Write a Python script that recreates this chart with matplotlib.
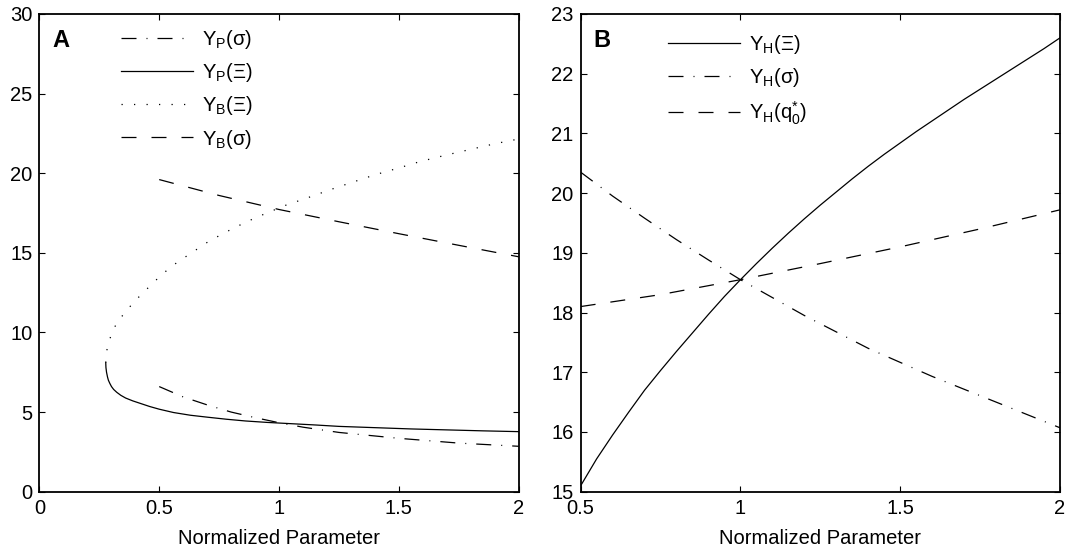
import matplotlib
matplotlib.use("Agg")
import matplotlib.pyplot as plt
import numpy as np

plt.rcParams['font.family'] = ['Liberation Sans', 'DejaVu Sans']
plt.rcParams['mathtext.fontset'] = 'custom'
plt.rcParams['mathtext.rm'] = 'Liberation Sans'
plt.rcParams['mathtext.it'] = 'Liberation Sans:italic'
plt.rcParams['mathtext.bf'] = 'Liberation Sans:bold'

# ---------------- Panel A data ----------------
yp_sigma_x = [0.5, 0.6, 0.7, 0.8, 0.9, 1.0, 1.1, 1.25, 1.5, 1.75, 2.0]
yp_sigma_y = [6.6, 5.95, 5.45, 5.0, 4.65, 4.33, 4.05, 3.72, 3.35, 3.05, 2.85]

yp_xi_x = [0.277, 0.2778, 0.2803, 0.2844, 0.288, 0.294, 0.301, 0.31, 0.323,
           0.34, 0.36, 0.39, 0.42, 0.46, 0.5, 0.56, 0.63, 0.7, 0.78, 0.86, 0.95, 1.05,
           1.15, 1.25, 1.4, 1.55, 1.7, 1.85, 2.0]
yp_xi_y = [8.1, 7.8, 7.5, 7.2, 7.0, 6.8, 6.6, 6.42, 6.24,
           6.05, 5.88, 5.7, 5.55, 5.35, 5.18, 4.97, 4.8, 4.68, 4.55, 4.44, 4.35, 4.27,
           4.19, 4.1, 4.02, 3.94, 3.88, 3.82, 3.77]

yb_xi_x = [0.277, 0.2776, 0.279, 0.282, 0.29, 0.3, 0.3125, 0.335, 0.361, 0.385, 0.41,
           0.44, 0.474, 0.505, 0.54, 0.575, 0.615, 0.655, 0.694, 0.735, 0.778, 0.82, 0.868,
           0.91, 0.949, 1.03, 1.118, 1.23, 1.3, 1.4, 1.5, 1.588, 1.7, 1.8, 1.9, 2.0]
yb_xi_y = [8.1, 8.4, 8.65, 8.9, 9.4, 9.85, 10.3, 10.85, 11.3, 11.75, 12.15,
           12.6, 13.1, 13.55, 14.0, 14.4, 14.8, 15.2, 15.6, 15.95, 16.3, 16.62, 16.97,
           17.25, 17.5, 18.0, 18.45, 19.05, 19.4, 19.9, 20.33, 20.73, 21.15, 21.5, 21.85, 22.15]

yb_sigma_x = [0.5, 0.75, 1.0, 1.25, 1.5, 1.75, 2.0]
yb_sigma_y = [19.6, 18.6, 17.72, 16.95, 16.2, 15.47, 14.75]

# ---------------- Panel B data ----------------
yh_xi_x = [0.5, 0.55, 0.6, 0.65, 0.7, 0.75, 0.8, 0.85, 0.9, 0.95, 1.0, 1.05, 1.1, 1.15,
           1.2, 1.25, 1.3, 1.35, 1.4, 1.45, 1.5, 1.55, 1.6, 1.65, 1.7, 1.75, 1.8, 1.85,
           1.9, 1.95, 2.0]
yh_xi_y = [15.1, 15.55, 15.95, 16.33, 16.7, 17.03, 17.35, 17.66, 17.97, 18.27, 18.55,
           18.82, 19.08, 19.33, 19.57, 19.8, 20.02, 20.24, 20.45, 20.65, 20.84, 21.03,
           21.21, 21.39, 21.57, 21.74, 21.91, 22.08, 22.25, 22.42, 22.6]

yh_sigma_x = [0.5, 0.6, 0.7, 0.8, 0.9, 1.0, 1.2, 1.4, 1.6, 1.8, 2.0]
yh_sigma_y = [20.35, 19.95, 19.58, 19.22, 18.88, 18.55, 17.95, 17.4, 16.93, 16.5, 16.07]

yh_q_x = [0.5, 0.75, 1.0, 1.25, 1.5, 1.75, 2.0]
yh_q_y = [18.1, 18.3, 18.55, 18.82, 19.1, 19.4, 19.72]

xticks_a = [0, 0.5, 1, 1.5, 2]
xticklabels_a = ['0', '0.5', '1', '1.5', '2']
yticks_a = [0, 5, 10, 15, 20, 25, 30]
xticks_b = [0.5, 1, 1.5, 2]
xticklabels_b = ['0.5', '1', '1.5', '2']
yticks_b = [15, 16, 17, 18, 19, 20, 21, 22, 23]

FS = 14.5
LW = 0.9
dashdot = (0, (12, 8, 0.8, 8))
dashed = (0, (12, 12))
dotted = (0, (1, 9))

fig = plt.figure(figsize=(10.69, 5.54), dpi=100)
axA = fig.add_axes([0.0368, 0.1125, 0.4485, 0.8623])
axB = fig.add_axes([0.5432, 0.1125, 0.4484, 0.8623])

axA.plot(yp_sigma_x, yp_sigma_y, color='k', lw=LW, ls=dashdot, label='Y$_\\mathregular{P}$(σ)')
axA.plot(yp_xi_x, yp_xi_y, color='k', lw=LW, ls='-', label='Y$_\\mathregular{P}$(Ξ)')
axA.plot(yb_xi_x, yb_xi_y, color='k', lw=LW, ls=dotted, label='Y$_\\mathregular{B}$(Ξ)')
axA.plot(yb_sigma_x, yb_sigma_y, color='k', lw=LW, ls=dashed, label='Y$_\\mathregular{B}$(σ)')
axA.set_xlim(0, 2)
axA.set_ylim(0, 30)
axA.set_xticks(xticks_a)
axA.set_xticklabels(xticklabels_a)
axA.set_yticks(yticks_a)

axB.plot(yh_xi_x, yh_xi_y, color='k', lw=LW, ls='-', label='Y$_\\mathregular{H}$(Ξ)')
axB.plot(yh_sigma_x, yh_sigma_y, color='k', lw=LW, ls=dashdot, label='Y$_\\mathregular{H}$(σ)')
axB.plot(yh_q_x, yh_q_y, color='k', lw=LW, ls=dashed,
         label='Y$_\\mathregular{H}$(q$_\\mathregular{0}^\\mathregular{*}$)')
axB.set_xlim(0.5, 2)
axB.set_ylim(15, 23)
axB.set_xticks(xticks_b)
axB.set_xticklabels(xticklabels_b)
axB.set_yticks(yticks_b)

for ax in (axA, axB):
    ax.tick_params(direction='in', top=True, right=True, length=4, width=0.8,
                   labelsize=FS, pad=5)
    for s in ax.spines.values():
        s.set_linewidth(1.3)
    ax.set_xlabel('Normalized Parameter', fontsize=FS, labelpad=8)

axA.text(0.027, 0.968, 'A', transform=axA.transAxes, fontsize=17, fontweight='bold',
         va='top', ha='left')
axB.text(0.027, 0.968, 'B', transform=axB.transAxes, fontsize=17, fontweight='bold',
         va='top', ha='left')

axA.legend(loc='upper left', bbox_to_anchor=(0.17, 0.97), frameon=False, fontsize=FS,
           handlelength=3.6, handletextpad=0.45, labelspacing=0.5, borderpad=0,
           borderaxespad=0)
axB.legend(loc='upper left', bbox_to_anchor=(0.182, 0.96), frameon=False, fontsize=FS,
           handlelength=3.6, handletextpad=0.45, labelspacing=0.5, borderpad=0,
           borderaxespad=0)

fig.savefig('out.png', dpi=100)
